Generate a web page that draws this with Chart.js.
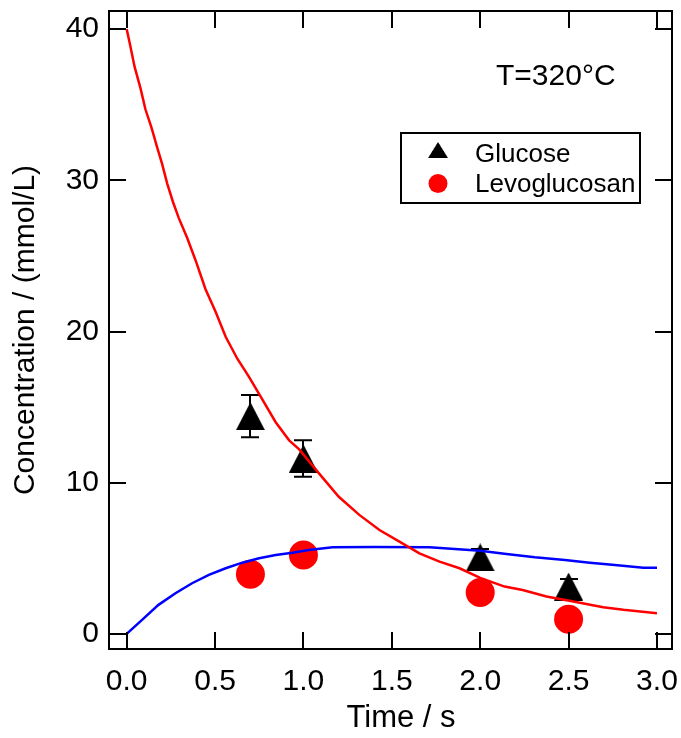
<!DOCTYPE html>
<html>
<head>
<meta charset="utf-8">
<script src="https://cdn.jsdelivr.net/npm/chart.js@4/dist/chart.umd.min.js"></script>
<style>
  html, body { margin: 0; padding: 0; background: #fff; }
  #wrap { width: 681px; height: 738px; }
</style>
</head>
<body>
<div id="wrap"><canvas id="chart" width="681" height="738"></canvas></div>
<script>
// model curves
const fitTime = [0, 0.015, 0.045, 0.078, 0.106, 0.14, 0.172, 0.2, 0.229, 0.261, 0.295, 0.342, 0.39, 0.446, 0.503, 0.56, 0.626, 0.692, 0.758, 0.843, 0.919, 0.976, 1.089, 1.2, 1.316, 1.43, 1.543, 1.656, 1.77, 1.883, 2.0, 2.138, 2.24, 2.375, 2.527, 2.696, 2.81, 3.0];
const glucoseFit = [40, 39.2, 37.5, 36.1, 34.7, 33.5, 32.2, 31.1, 29.8, 28.6, 27.5, 26.2, 24.7, 22.8, 21.3, 19.65, 18.2, 17.0, 15.7, 14.0, 12.8, 12.2, 10.6, 9.07, 7.87, 6.87, 6.1, 5.33, 4.78, 4.34, 3.7, 3.13, 2.9, 2.47, 2.14, 1.76, 1.59, 1.37];
const levoTime = [0, 0.087, 0.18, 0.276, 0.37, 0.465, 0.56, 0.654, 0.749, 0.843, 0.938, 1.03, 1.165, 1.4, 1.713, 2.0, 2.148, 2.309, 2.479, 2.62, 2.762, 2.923, 3.0];
const levoFit = [0, 0.93, 1.92, 2.69, 3.35, 3.9, 4.34, 4.71, 5.0, 5.22, 5.37, 5.55, 5.73, 5.75, 5.73, 5.5, 5.29, 5.07, 4.89, 4.71, 4.56, 4.38, 4.38];

// measured points
const sampleTime = [0.7, 1.0, 2.0, 2.5];
const glucose = [14.4, 11.6, 5.06, 3.13];
const glucoseErr = [1.4, 1.2, 0.55, 0.5];
const levoglucosan = [3.95, 5.22, 2.73, 0.97];

const xTicks = [0, 0.5, 1.0, 1.5, 2.0, 2.5, 3.0];
const yTicks = [0, 10, 20, 30, 40];

document.addEventListener("DOMContentLoaded", function () {
    const FONT = "'Liberation Sans', Arial, sans-serif";

    function toXY(xs, ys) {
        return xs.map(function (x, i) { return { x: x, y: ys[i] }; });
    }

    // centred triangle marker (the built-in one sits off centre)
    function triangleMarker(w, h) {
        const c = document.createElement("canvas");
        c.width = w;
        c.height = h;
        const g = c.getContext("2d");
        g.fillStyle = "#000";
        g.beginPath();
        g.moveTo(w / 2, 0);
        g.lineTo(w, h);
        g.lineTo(0, h);
        g.closePath();
        g.fill();
        return c;
    }
    const tri = triangleMarker(29, 28);

    const frame = {
        id: "frame",
        beforeDatasetsDraw(chart) {
            // error bars go under the markers
            const ctx = chart.ctx;
            const xs = chart.scales.x, ys = chart.scales.y;
            ctx.save();
            ctx.strokeStyle = "#000";
            ctx.lineWidth = 2;
            sampleTime.forEach(function (t, i) {
                const px = Math.round(xs.getPixelForValue(t));
                const top = ys.getPixelForValue(glucose[i] + glucoseErr[i]);
                const bot = ys.getPixelForValue(glucose[i] - glucoseErr[i]);
                ctx.beginPath();
                ctx.moveTo(px, top); ctx.lineTo(px, bot);
                ctx.moveTo(px - 9, top); ctx.lineTo(px + 9, top);
                ctx.moveTo(px - 9, bot); ctx.lineTo(px + 9, bot);
                ctx.stroke();
            });
            ctx.restore();
        },
        afterDraw(chart) {
            const ctx = chart.ctx;
            const a = chart.chartArea;
            const xs = chart.scales.x, ys = chart.scales.y;
            const tl = 17;
            ctx.save();
            ctx.strokeStyle = "#000";
            ctx.lineWidth = 2;
            ctx.strokeRect(a.left, a.top, a.right - a.left, a.bottom - a.top);
            ctx.beginPath();
            xTicks.forEach(function (v) {
                const px = Math.round(xs.getPixelForValue(v));
                ctx.moveTo(px, a.bottom); ctx.lineTo(px, a.bottom - tl);
                ctx.moveTo(px, a.top); ctx.lineTo(px, a.top + tl);
            });
            yTicks.forEach(function (v) {
                const py = Math.round(ys.getPixelForValue(v));
                ctx.moveTo(a.left, py); ctx.lineTo(a.left + tl, py);
                ctx.moveTo(a.right, py); ctx.lineTo(a.right - tl, py);
            });
            ctx.stroke();

            ctx.fillStyle = "#000";
            ctx.textBaseline = "middle";

            // x axis title
            ctx.font = "31px " + FONT;
            ctx.textAlign = "center";
            ctx.fillText("Time / s", 401, 718);

            // annotation
            ctx.textAlign = "left";
            ctx.font = "30px " + FONT;
            ctx.fillText("T=320°C", 496, 77);

            // legend box
            const bx = 401, by = 133, bw = 239, bh = 70;
            ctx.lineWidth = 2;
            ctx.strokeRect(bx, by, bw, bh);
            ctx.drawImage(tri, 428, 142, 20, 16);
            ctx.fillStyle = "#ff0000";
            ctx.beginPath();
            ctx.arc(438, 183.5, 9.5, 0, Math.PI * 2);
            ctx.fill();
            ctx.fillStyle = "#000";
            ctx.font = "26px " + FONT;
            ctx.fillText(chart.data.datasets[2].label, 475, 155);
            ctx.fillText(chart.data.datasets[3].label, 475, 185);
            ctx.restore();
        }
    };

    new Chart(document.getElementById("chart"), {
        type: "scatter",
        data: {
            datasets: [
                {
                    label: "Glucose fit",
                    data: toXY(fitTime, glucoseFit),
                    showLine: true,
                    borderColor: "#ff0000",
                    borderWidth: 2.5,
                    pointRadius: 0,
                    tension: 0
                },
                {
                    label: "Levoglucosan fit",
                    data: toXY(levoTime, levoFit),
                    showLine: true,
                    borderColor: "#0000ff",
                    borderWidth: 2.5,
                    pointRadius: 0,
                    tension: 0
                },
                {
                    label: "Glucose",
                    data: toXY(sampleTime, glucose),
                    pointStyle: tri,
                    pointRadius: 14,
                    backgroundColor: "#000"
                },
                {
                    label: "Levoglucosan",
                    data: toXY(sampleTime, levoglucosan),
                    pointStyle: "circle",
                    pointRadius: 14.5,
                    borderWidth: 0,
                    backgroundColor: "#ff0000"
                }
            ]
        },
        options: {
            responsive: false,
            animation: false,
            layout: { autoPadding: false, padding: { top: 11, right: 9, left: 0, bottom: 0 } },
            plugins: {
                legend: { display: false },
                tooltip: { enabled: false }
            },
            scales: {
                x: {
                    type: "linear",
                    min: -0.1,
                    max: 3.085,
                    grid: { display: false, drawTicks: false },
                    border: { display: false },
                    afterBuildTicks: function (s) { s.ticks = xTicks.map(function (v) { return { value: v }; }); },
                    afterFit: function (s) { s.height = 89; s.paddingLeft = 0; s.paddingRight = 0; },
                    ticks: {
                        padding: 15,
                        maxRotation: 0,
                        color: "#000",
                        font: { family: FONT, size: 30 },
                        callback: function (v) { return Number(v).toFixed(1); }
                    }
                },
                y: {
                    type: "linear",
                    min: -1,
                    max: 41.2,
                    grid: { display: false, drawTicks: false },
                    border: { display: false },
                    afterBuildTicks: function (s) { s.ticks = yTicks.map(function (v) { return { value: v }; }); },
                    afterFit: function (s) { s.width = 109; s.paddingTop = 0; s.paddingBottom = 0; },
                    ticks: {
                        padding: 10,
                        color: "#000",
                        font: { family: FONT, size: 30 },
                        callback: function (v) { return String(v); }
                    },
                    title: {
                        display: true,
                        text: "Concentration / (mmol/L)",
                        color: "#000",
                        font: { family: FONT, size: 30 },
                        padding: { top: 8, bottom: 0 }
                    }
                }
            }
        },
        plugins: [frame]
    });
});
</script>
</body>
</html>
